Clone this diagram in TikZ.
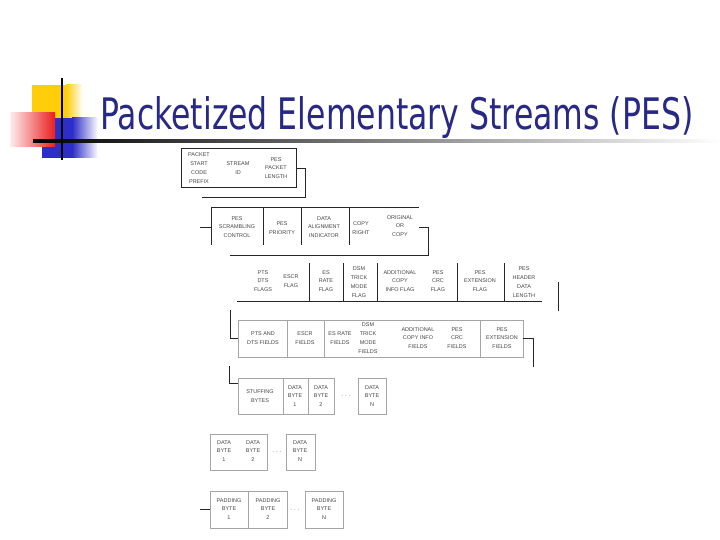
\documentclass[tikz,border=0pt]{standalone}
\usepackage{fontspec}
\setmainfont{Liberation Sans}
\newfontfamily\titlefont{DejaVu Sans}
\usepackage{graphicx}
\definecolor{titleblue}{RGB}{40,40,135}
\definecolor{txtgray}{RGB}{70,70,70}
\definecolor{boxgray}{RGB}{165,165,165}
\definecolor{ycol}{RGB}{255,205,10}
\definecolor{bcol}{RGB}{45,45,200}
\definecolor{rcol}{RGB}{235,30,30}
\tikzset{
  lbl/.style={font=\fontsize{5.5}{8.8}\selectfont, align=center, text=txtgray, inner sep=0pt},
  dk/.style={draw=black!85, line width=0.8bp},
  lt/.style={draw=boxgray, line width=0.7bp},
  dots/.style={font=\fontsize{7}{7}\selectfont, text=txtgray, inner sep=0pt}
}
\begin{document}
\begin{tikzpicture}[x=1bp,y=-1bp]
\useasboundingbox[fill=white] (0,0) rectangle (720,540);
% decoration
\fill[ycol] (32,85) rectangle (66,133);
\shade[left color=ycol, right color=ycol!5] (66,85) rectangle (82,133);
\fill[bcol] (42,118) rectangle (72,158);
\shade[left color=bcol, right color=white] (72,118) rectangle (98,158);
\shade[left color=rcol!8, right color=rcol] (10,113) rectangle (55,147);
\shade[left color=black, right color=white] (33,139.8) rectangle (720,142.2);
\draw[line width=2.5bp] (62,78) -- (62,160);
% title
\node[anchor=base west, inner sep=0pt, text=titleblue] (title) at (100,130)
  {\resizebox{593bp}{33bp}{\titlefont Packetized Elementary Streams (PES)}};
% ---- row 1
\draw[dk] (181,148) rectangle (296,187);
\node[lbl] (r1a) at (199,168) {PACKET\\START\\CODE\\PREFIX};
\node[lbl] (r1b) at (238,168) {STREAM\\ID};
\node[lbl] (r1c) at (276,168) {PES\\PACKET\\LENGTH};
\draw[dk] (296,168) -- (305,168) -- (305,197) -- (202,197);
% ---- row 2
\draw[dk] (211,207) -- (419,207);
\foreach \x in {211,263,301,349} \draw[dk] (\x,207) -- (\x,245);
\draw[dk] (200,227) -- (211,227);
\node[lbl] (r2a) at (237,227) {PES\\SCRAMBLING\\CONTROL};
\node[lbl] (r2b) at (282,228) {PES\\PRIORITY};
\node[lbl] (r2c) at (324,227) {DATA\\ALIGNMENT\\INDICATOR};
\node[lbl] (r2d) at (361,228) {COPY\\RIGHT};
\node[lbl] (r2e) at (400,226) {ORIGINAL\\OR\\COPY};
\draw[dk] (419,227) -- (428,227) -- (428,255) -- (230,255);
% ---- row 3
\foreach \x in {309,343,377,457,504} \draw[dk] (\x,263) -- (\x,301);
\draw[dk] (237,301) -- (542,301);
\node[lbl] (r3a) at (263,281) {PTS\\DTS\\FLAGS};
\node[lbl] (r3b) at (291,281) {ESCR\\FLAG};
\node[lbl] (r3c) at (326,281) {ES\\RATE\\FLAG};
\node[lbl] (r3d) at (359,282) {DSM\\TRICK\\MODE\\FLAG};
\node[lbl] (r3e) at (400,281) {ADDITIONAL\\COPY\\INFO FLAG};
\node[lbl] (r3f) at (438,281) {PES\\CRC\\FLAG};
\node[lbl] (r3g) at (480,281) {PES\\EXTENSION\\FLAG};
\node[lbl] (r3h) at (524,282) {PES\\HEADER\\DATA\\LENGTH};
\draw[dk] (558,282) -- (558,311);
% ---- row 4
\draw[dk] (230,310) -- (230,338) -- (238,338);
\draw[lt] (238,320) rectangle (523,357);
\foreach \x in {287,324,480} \draw[lt] (\x,320) -- (\x,357);
\node[lbl] (r4a) at (263,338) {PTS AND\\DTS FIELDS};
\node[lbl] (r4b) at (305,338) {ESCR\\FIELDS};
\node[lbl] (r4c) at (340,338) {ES RATE\\FIELDS};
\node[lbl] (r4d) at (368,338) {DSM\\TRICK\\MODE\\FIELDS};
\node[lbl] (r4e) at (418,338) {ADDITIONAL\\COPY INFO\\FIELDS};
\node[lbl] (r4f) at (457,338) {PES\\CRC\\FIELDS};
\node[lbl] (r4g) at (502,338) {PES\\EXTENSION\\FIELDS};
\draw[dk] (523,338) -- (533,338) -- (533,367);
% ---- row 5
\draw[dk] (229,366) -- (229,383) -- (238,383);
\draw[lt] (238,378) rectangle (334,414);
\foreach \x in {283,308} \draw[lt] (\x,378) -- (\x,414);
\node[lbl] (r5a) at (260,396) {STUFFING\\BYTES};
\node[lbl] (r5b) at (295,396) {DATA\\BYTE\\1};
\node[lbl] (r5c) at (321,396) {DATA\\BYTE\\2};
\node[dots] (r5d) at (346,396) {$\cdots$};
\draw[lt] (358,378) rectangle (386,414);
\node[lbl] (r5e) at (372,396) {DATA\\BYTE\\N};
% ---- row 6
\draw[lt] (210,434) rectangle (267,470);
\node[lbl] (r6a) at (224,451) {DATA\\BYTE\\1};
\node[lbl] (r6b) at (253,451) {DATA\\BYTE\\2};
\node[dots] (r6c) at (277,452) {$\cdots$};
\draw[lt] (286,434) rectangle (315,470);
\node[lbl] (r6d) at (300,451) {DATA\\BYTE\\N};
% ---- row 7
\draw[dk] (200,509) -- (210,509);
\draw[lt] (210,491) rectangle (287,528);
\draw[lt] (248,491) -- (248,528);
\node[lbl] (r7a) at (229,509) {PADDING\\BYTE\\1};
\node[lbl] (r7b) at (268,509) {PADDING\\BYTE\\2};
\node[dots] (r7c) at (295,510) {$\cdots$};
\draw[lt] (305,491) rectangle (343,528);
\node[lbl] (r7d) at (324,509) {PADDING\\BYTE\\N};
\end{tikzpicture}
\end{document}
